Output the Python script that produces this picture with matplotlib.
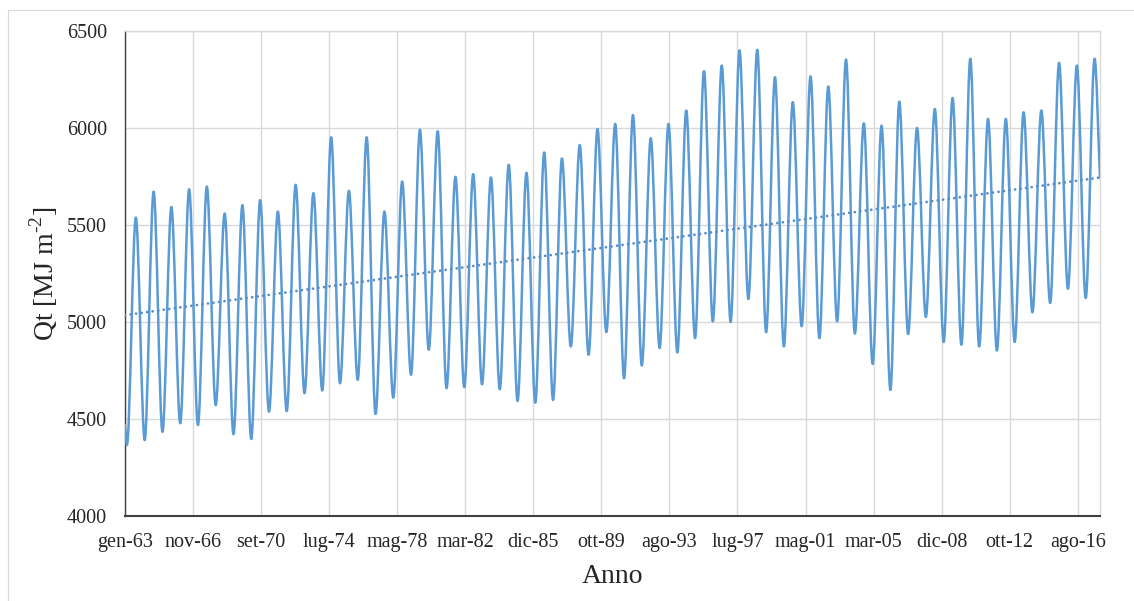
import datetime as dt
import matplotlib
matplotlib.use("Agg")
import matplotlib.pyplot as plt
import matplotlib.dates as mdates
from matplotlib.path import Path
from matplotlib.patches import PathPatch, Rectangle

# Annual minima (late winter) and maxima (late summer) of Qt, 1963-2017
years = list(range(1963, 2018))
troughs = [4366, 4391, 4434, 4478, 4469, 4572, 4422, 4397, 4538, 4541,
           4633, 4647, 4684, 4702, 4526, 4610, 4728, 4857, 4659, 4664,
           4679, 4653, 4593, 4584, 4598, 4874, 4831, 4948, 4710, 4776,
           4866, 4843, 4917, 5003, 5000, 5119, 4947, 4874, 4978, 4917,
           5003, 4940, 4784, 4650, 4938, 5026, 4897, 4883, 4874, 4853,
           4897, 5050, 5098, 5171, 5124]
peaks = [5538, 5672, 5593, 5684, 5698, 5559, 5602, 5628, 5569, 5707,
         5664, 5952, 5676, 5952, 5569, 5724, 5991, 5983, 5748, 5762,
         5745, 5810, 5769, 5874, 5843, 5912, 5995, 6021, 6067, 5947,
         6021, 6090, 6293, 6322, 6400, 6403, 6262, 6133, 6266, 6214,
         6353, 6024, 6012, 6136, 6000, 6098, 6155, 6357, 6047, 6047,
         6081, 6090, 6336, 6322, 6357]
first_value = 4469   # gen-63
last_value = 5745    # dic-17
trend_start = 5035
trend_end = 5745

mesi = ["gen", "feb", "mar", "apr", "mag", "giu",
        "lug", "ago", "set", "ott", "nov", "dic"]
y_ticks = [4000, 4500, 5000, 5500, 6000, 6500]

plt.rcParams["font.family"] = ["Liberation Serif", "DejaVu Serif"]
plt.rcParams["mathtext.fontset"] = "custom"
plt.rcParams["mathtext.rm"] = "Liberation Serif"

start = dt.datetime(1963, 1, 1)
end = dt.datetime(2017, 12, 1)

# series knots: start, then trough/peak for each year, then the last month
t = [mdates.date2num(start)]
v = [first_value]
for yr, lo, hi in zip(years, troughs, peaks):
    t += [mdates.date2num(dt.datetime(yr, 2, 10)),
          mdates.date2num(dt.datetime(yr, 8, 12))]
    v += [lo, hi]
t.append(mdates.date2num(end))
v.append(last_value)

# smoothed line through the knots (flat tangents at the extremes)
n = len(t)
slopes = [0.0] * n
slopes[0] = (v[1] - v[0]) / (t[1] - t[0])
slopes[-1] = (v[-1] - v[-2]) / (t[-1] - t[-2])
verts = [(t[0], v[0])]
codes = [Path.MOVETO]
for i in range(n - 1):
    h = (t[i + 1] - t[i]) / 3.0
    verts += [(t[i] + h, v[i] + slopes[i] * h),
              (t[i + 1] - h, v[i + 1] - slopes[i + 1] * h),
              (t[i + 1], v[i + 1])]
    codes += [Path.CURVE4] * 3

W, H = 1134, 601
fig = plt.figure(figsize=(W / 100, H / 100), dpi=100)
fig.patch.set_facecolor("white")
fig.add_artist(Rectangle((8 / W, -0.05), 1.2, 1 - 10 / H + 0.05,
                         transform=fig.transFigure, fill=False,
                         edgecolor="#d9d9d9", linewidth=0.8))

ax = fig.add_axes([125 / W, 1 - 516 / H, 975 / W, 485 / H])
line_color = "#5B9BD5"
ax.add_patch(PathPatch(Path(verts, codes), facecolor="none",
                       edgecolor=line_color, linewidth=1.8,
                       capstyle="round", joinstyle="round", zorder=3))

ax.plot([t[0], t[-1]], [trend_start, trend_end], color="#5a8cc4",
        linewidth=2.0, linestyle=(0, (0.01, 2.0)),
        dash_capstyle="round", zorder=4)

ax.set_xlim(t[0], t[-1])
ax.set_ylim(4000, 6500)

tick_dates = []
d = start
while d <= end:
    tick_dates.append(d)
    d += dt.timedelta(days=1400)
ax.set_xticks([mdates.date2num(x) for x in tick_dates])
ax.set_xticklabels([f"{mesi[x.month - 1]}-{x.year % 100:02d}"
                    for x in tick_dates])
ax.set_yticks(y_ticks)
ax.set_yticklabels([str(y) for y in y_ticks])

ax.grid(True, color="#d9d9d9", linewidth=1.0, zorder=0)
ax.set_axisbelow(True)
for side in ("top", "right"):
    ax.spines[side].set_color("#d9d9d9")
    ax.spines[side].set_linewidth(1.0)
ax.spines["left"].set_color("#404040")
ax.spines["bottom"].set_color("#404040")
ax.spines["left"].set_linewidth(1.0)
ax.spines["bottom"].set_linewidth(1.5)
ax.tick_params(axis="both", length=0, labelsize=14.5, colors="#262626")
ax.tick_params(axis="x", pad=12)
ax.tick_params(axis="y", pad=13)

ax.set_xlabel("Anno", fontsize=20, color="#262626", labelpad=9)
ax.set_ylabel(r"Qt [MJ m$^{\text{-2}}$]", fontsize=20,
              color="#262626", labelpad=5)

fig.savefig("out.png", dpi=100, facecolor="white")
